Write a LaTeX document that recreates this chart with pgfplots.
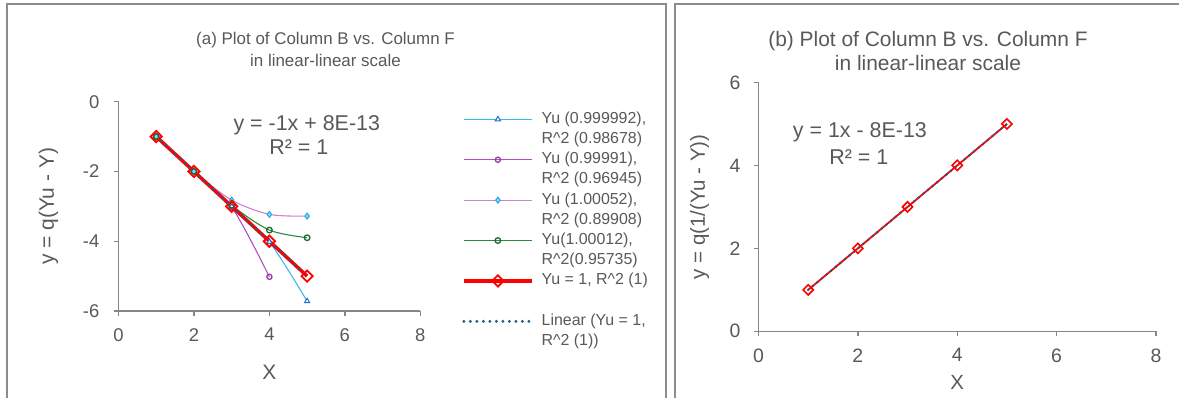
\documentclass[border=0pt]{standalone}
\usepackage{pgfplots}
\pgfplotsset{compat=1.18}
\usepackage{fontspec}
\setmainfont{Liberation Sans}
\definecolor{txt}{HTML}{595959}
\definecolor{axg}{HTML}{868686}
\definecolor{frm}{HTML}{8C8C8C}
\definecolor{sA}{HTML}{3DB9EB}
\definecolor{sAm}{HTML}{1F6FC4}
\definecolor{sB}{HTML}{B04FBF}
\definecolor{sBm}{HTML}{9B3AA8}
\definecolor{sC}{HTML}{D37FD3}
\definecolor{sCm}{HTML}{22A7E0}
\definecolor{sD}{HTML}{2E8B3E}
\definecolor{sDm}{HTML}{1D6B2A}
\definecolor{rd}{HTML}{FF0000}
\definecolor{tl}{HTML}{1F5E86}
\pgfplotsset{
  excel/.style={
    scale only axis, anchor=south west, clip=false,
    xmin=0, xmax=8, xtick={0,2,4,6,8},
    axis x line*=bottom, axis y line*=left,
    axis line style={draw=axg, line width=1.3bp},
    major tick style={draw=axg, line width=1.3bp},
    tick align=outside, major tick length=5bp,
    /pgf/number format/assume math mode=true,
    tick label style={text=txt},
    label style={text=txt},
  },
}
\begin{document}
\begin{tikzpicture}
\useasboundingbox (0bp,0bp) rectangle (1179bp,398bp);
\fill[white] (0bp,0bp) rectangle (1179bp,398bp);
\draw[frm, line width=1.5bp] (7bp,-10bp) rectangle (666bp,394bp);
\draw[frm, line width=1.5bp] (675bp,-10bp) rectangle (1190bp,394bp);
\node[text=txt, font=\fontsize{17}{17}\selectfont] at (325.5bp,358bp) {(a) Plot of Column B vs. Column F};
\node[text=txt, font=\fontsize{17}{17}\selectfont] at (325.5bp,338bp) {in linear-linear scale};
\node[text=txt, font=\fontsize{21}{21}\selectfont] at (928bp,357bp) {(b) Plot of Column B vs. Column F};
\node[text=txt, font=\fontsize{21}{21}\selectfont] at (928bp,335bp) {in linear-linear scale};

\begin{axis}[excel,
  width=301.8bp, height=209.3bp, at={(118.5bp,87bp)},
  ymin=-6, ymax=0, ytick={-6,-4,-2,0},
  tick label style={font=\fontsize{18.5}{18.5}\selectfont},
  xticklabel style={inner sep=0pt, anchor=north, yshift=-12bp},
  yticklabel style={inner sep=0pt, anchor=east, xshift=-14bp},
  xlabel={X}, ylabel={y = q(Yu - Y)},
  label style={font=\fontsize{21}{21}\selectfont},
  xlabel style={at={(axis description cs:0.5,-0.2915)}, anchor=center},
  ylabel style={at={(axis description cs:-0.232,0.5)}, anchor=center},
  legend style={at={(1.138,0.965)}, anchor=north west, draw=none, fill=none,
    font=\fontsize{16}{16}\selectfont, inner sep=0pt, row sep=0pt, column sep=8bp,
    nodes={inner sep=0pt, text height=14bp, text depth=6.2bp, text=txt},
    cells={anchor=west}},
  legend image code/.code={\draw[#1, mark=none] (0bp,0bp) -- (68bp,0bp); \draw[#1] plot coordinates {(34bp,0bp)};},
]
\addplot[sA, line width=1.1bp, smooth, mark=triangle*, mark size=3bp, mark options={draw=sAm, fill=white, line width=1bp, solid}]
  coordinates {(1,-1)(2,-2)(3,-3)(4,-4.02)(5,-5.72)};
\addlegendentry{Yu (0.999992),}
\addlegendimage{empty legend}\addlegendentry{R\textasciicircum 2 (0.98678)}
\addplot[sB, line width=1.1bp, smooth, mark=o, mark size=2.6bp, mark options={draw=sBm, fill=white, line width=1.3bp, solid}]
  coordinates {(1,-1)(2,-2)(3,-3.02)(4,-5.02)};
\addlegendentry{Yu (0.99991),}
\addlegendimage{empty legend}\addlegendentry{R\textasciicircum 2 (0.96945)}
\addplot[sC, line width=1.1bp, smooth, mark=diamond*, mark size=3bp, mark options={draw=sCm, fill=sCm!45, line width=1bp, solid}]
  coordinates {(1,-1)(2,-2)(3,-2.82)(4,-3.23)(5,-3.28)};
\addlegendentry{Yu (1.00052),}
\addlegendimage{empty legend}\addlegendentry{R\textasciicircum 2 (0.89908)}
\addplot[sD, line width=1.1bp, smooth, mark=o, mark size=2.8bp, mark options={draw=sDm, fill=white, line width=1.3bp, solid}]
  coordinates {(1,-1)(2,-2)(3,-2.97)(4,-3.68)(5,-3.90)};
\addlegendentry{Yu(1.00012),}
\addlegendimage{empty legend}\addlegendentry{R\textasciicircum 2(0.95735)}
\addplot[rd, line width=3.5bp, mark=square, mark size=4bp, mark options={rotate=45, line width=1.8bp, solid}]
  coordinates {(1,-1)(2,-2)(3,-3)(4,-4)(5,-5)};
\addlegendentry{Yu = 1, R\textasciicircum 2 (1)}
\addlegendimage{empty legend}\addlegendentry{}
\addplot[tl, line width=3.2bp, dash pattern=on 0bp off 6.5bp, line cap=round]
  coordinates {(1,-1)(5,-5)};
\addlegendentry{Linear (Yu = 1,}
\addlegendimage{empty legend}\addlegendentry{R\textasciicircum 2 (1))}
\node[text=txt, font=\fontsize{21.5}{21.5}\selectfont] at (axis cs:4.99,-0.67) {y = -1x + 8E-13};
\node[text=txt, font=\fontsize{21.5}{21.5}\selectfont] at (axis cs:4.78,-1.30) {R² = 1};
\end{axis}

\begin{axis}[excel,
  width=397.5bp, height=248.8bp, at={(758.5bp,66.7bp)},
  ymin=0, ymax=6, ytick={0,2,4,6},
  tick label style={font=\fontsize{19.5}{19.5}\selectfont},
  xticklabel style={inner sep=0pt, anchor=north, yshift=-12bp},
  yticklabel style={inner sep=0pt, anchor=east, xshift=-13bp},
  xlabel={X}, ylabel={y = q(1/(Yu - Y))},
  label style={font=\fontsize{20.5}{20.5}\selectfont},
  xlabel style={at={(axis description cs:0.5,-0.205)}, anchor=center},
  ylabel style={at={(axis description cs:-0.148,0.5)}, anchor=center},
]
\addplot[rd, line width=1.8bp, mark=square, mark size=3.6bp, mark options={rotate=45, line width=1.6bp, solid}]
  coordinates {(1,1)(2,2)(3,3)(4,4)(5,5)};
\addplot[tl, line width=2.8bp, dash pattern=on 0bp off 6bp, line cap=round]
  coordinates {(1,1)(5,5)};
\node[text=txt, font=\fontsize{21.5}{21.5}\selectfont] at (axis cs:2.04,4.79) {y = 1x - 8E-13};
\node[text=txt, font=\fontsize{21.5}{21.5}\selectfont] at (axis cs:2.02,4.21) {R² = 1};
\end{axis}
\end{tikzpicture}
\end{document}
